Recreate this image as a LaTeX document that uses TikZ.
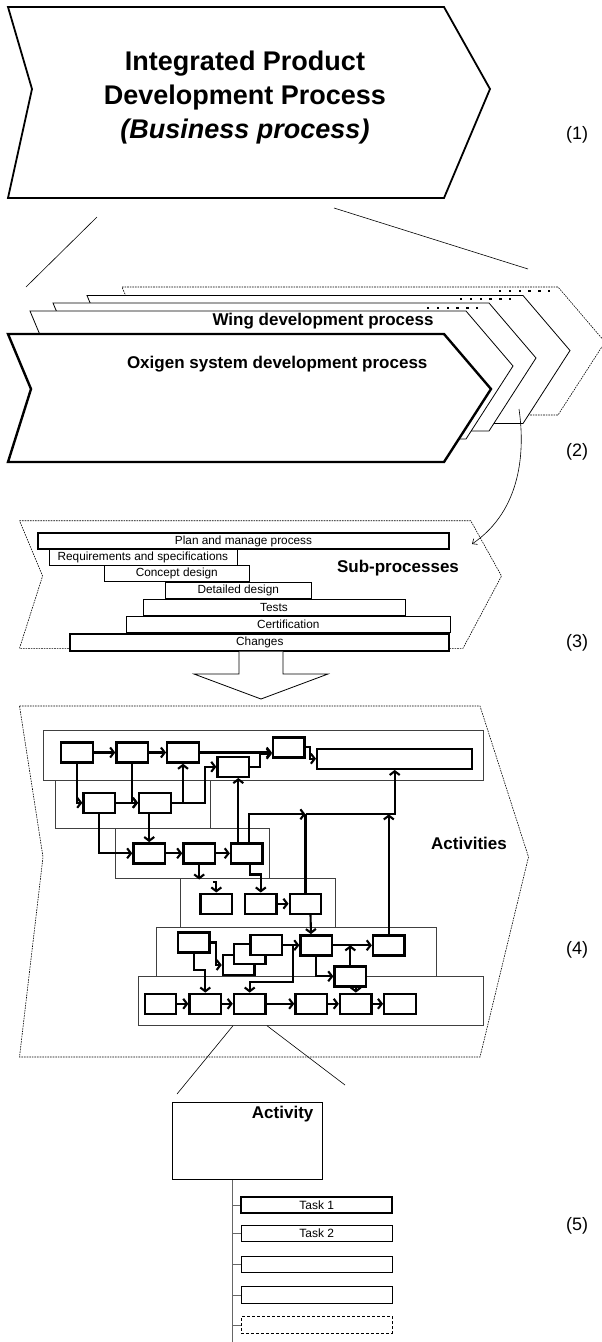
\documentclass[tikz,border=0pt]{standalone}
\usepackage{fontspec}
\setmainfont{Liberation Sans}
\usepackage{tikz}
\usetikzlibrary{arrows.meta}
\newcommand{\framecolor}{black!75}
\newcommand{\spinecolor}{black!60}
% one process chevron of the stack: top left corner at (#2,#3)
\newcommand{\procchev}[3][]{\draw[chev,#1] (#2,#3) -- ++(436,0) -- ++(47,55) -- ++(-47,73) -- ++(-436,0) -- ++(23,-73) -- cycle;}
% six small dots starting at (#1,#2)
\newcommand{\procdots}[2]{\foreach \k in {0,...,5} \fill (#1+9.8*\k,#2) rectangle ++(2.3,2.3);}

\begin{document}
\begin{tikzpicture}[x=1pt, y=-1pt,
	chev/.style={draw, fill=white, line width=0.8pt},
	fine/.style={line width=0.6pt, dash pattern=on 1.6pt off 1pt},
	bar/.style={draw, fill=white, line width=0.6pt, inner sep=0pt, minimum height=16.5pt, font=\fontsize{11.8}{13}\selectfont},
	actbox/.style={draw, fill=white, line width=2.4pt, inner sep=0pt, minimum width=31.5pt, minimum height=20pt},
	flow/.style={line width=2.1pt, -{Straight Barb[length=3.8pt, width=10pt]}},
	link/.style={line width=2.1pt},
	group/.style={draw=\framecolor, line width=0.7pt},
	task/.style={draw, fill=white, line width=1pt, inner sep=0pt, minimum width=151pt, minimum height=16.5pt, font=\fontsize{12}{13}\selectfont},
	boldlbl/.style={font=\fontsize{17}{19}\selectfont\bfseries},
	num/.style={font=\fontsize{18}{20}\selectfont}]
	\useasboundingbox (0,0) rectangle (602,1342);

	% (1) business process
	\draw[line width=1.8pt, fill=white] (8,7) -- (444,7) -- (490,89) -- (444,198) -- (8,198) -- (32,89) -- cycle;
	\node (ipdp) at (245,98) [align=center, font=\fontsize{27}{34}\selectfont\bfseries]
		{Integrated Product\\Development Process\\\textit{(Business process)}};
	\node (n1) at (577,135) [num] {(1)};
	\draw[line width=0.6pt] (97,217) -- (26,287);
	\draw[line width=0.6pt] (334,208) -- (528,269);

	% (2) development processes
	\procchev[fine]{122}{287}
	\procdots{499}{290}
	\procchev{87}{295.5}
	\procdots{460}{298}
	\procchev{53}{303}
	\procdots{427}{306.5}
	\procchev{30}{311}
	\procchev[line width=2.4pt]{8}{334}
	\node (wing) at (437,321) [anchor=east, boldlbl] {Wing development process};
	\node (oxi) at (431,364) [anchor=east, boldlbl] {Oxigen system development process};
	\node (n2) at (577,452) [num] {(2)};

	% (3) sub-processes
	\draw[fine] (19.5,520.7) -- (470.7,520.7) -- (501.5,576) -- (463,648.3) -- (19.5,648.3) -- (42.6,576) -- cycle;
	\node[bar, minimum width=188pt] (reqs) at (142.9,557.2) {Requirements and specifications};
	\node[bar, minimum width=145.5pt] (concept) at (176.8,573.3) {Concept design};
	\node[bar, minimum width=145.3pt] (detail) at (238.3,590.3) {Detailed design};
	\node[bar, minimum width=262pt] (tests) at (274,607.3) {Tests};
	\node[bar, minimum width=323.5pt] (certif) at (288.3,624.2) {Certification};
	\node[bar, line width=1.8pt, minimum width=411pt] (plan) at (243.5,541) {Plan and manage process};
	\node[bar, line width=1.8pt, minimum width=379pt] (changes) at (259.8,642.5) {Changes};
	\node (subl) at (398,568) [boldlbl] {Sub-processes};
	\node (n3) at (577,643) [num] {(3)};
	\coordinate (stackout) at (519,409);
	\coordinate (subin) at (472,544);
	\draw[line width=0.6pt, -{Straight Barb[length=4pt, width=7pt]}] (stackout)
		.. controls (525,450) and (522,510) .. (subin);
	\draw[line width=0.8pt, fill=white] (239,651.5) -- (239,674) -- (194,674) -- (261,699)
		-- (328,674) -- (283,674) -- (283,651.5);

	% (4) activities
	\draw[fine] (19.5,706) -- (480,706) -- (528.5,857) -- (480,1057) -- (19.5,1057) -- (43,857) -- cycle;
	\node (actl) at (469,843) [boldlbl] {Activities};
	\node (n4) at (577,950) [num] {(4)};
	\draw[group] (43.3,730.7) rectangle (483.3,780);
	\draw[group] (55,780) rectangle (210.7,828.3);
	\draw[group] (115,828.3) rectangle (269.3,878.3);
	\draw[group] (180.7,878.3) rectangle (335,927.7);
	\draw[group] (156.7,927.7) rectangle (436,976.7);
	\draw[group] (138.3,976.7) rectangle (483.3,1025.7);

	\node[actbox] (A1) at (77,752.5) {};
	\node[actbox] (A2) at (132.2,752.5) {};
	\node[actbox] (A3) at (183,752.5) {};
	\node[actbox] (A4) at (233.3,766.8) {};
	\node[actbox] (A5) at (288.8,747.3) {};
	\node[actbox, minimum width=155pt] (A6) at (394.7,758.7) {};
	\node[actbox] (B1) at (99.3,802.8) {};
	\node[actbox] (B2) at (155,802.8) {};
	\node[actbox] (C1) at (149.2,853.3) {};
	\node[actbox] (C2) at (199.2,853.3) {};
	\node[actbox] (C3) at (246.8,853.3) {};
	\node[actbox] (D1) at (216.3,903.7) {};
	\node[actbox] (D2) at (260.8,903.7) {};
	\node[actbox] (D3) at (305.5,903.7) {};
	\node[actbox] (E1) at (193.8,942.5) {};
	\node[actbox] (E2a) at (238.7,965) {};
	\node[actbox] (E2b) at (249.6,953.8) {};
	\node[actbox] (E2c) at (266.4,945.2) {};
	\node[actbox] (E3) at (316.3,945.3) {};
	\node[actbox] (E4) at (388.8,945.3) {};
	\node[actbox] (E5) at (350.3,976.3) {};
	\node[actbox] (F1) at (160.5,1003.8) {};
	\node[actbox] (F2) at (205.3,1003.8) {};
	\node[actbox] (F3) at (249.7,1003.8) {};
	\node[actbox] (F4) at (311.2,1003.8) {};
	\node[actbox] (F5) at (355.8,1003.8) {};
	\node[actbox] (F6) at (400,1003.8) {};

	\draw[flow] (A1) -- (A2);
	\draw[flow] (A2) -- (A3);
	\draw[flow] (A3.east) -- (A5.west |- A3.east);
	\draw[flow] (A4.east) -- ++(10,0) |- ([yshift=-6.5pt]A5.west);
	\draw[flow] (A5.east) -- ++(4,0) |- (A6.west);
	\draw[flow] (A1.south) |- (B1.west);
	\draw[flow] (A2.south) |- (B2.west);
	\draw[flow] (B1) -- (B2);
	\draw[flow] (B2.east) -| (A3.south);
	\draw[flow] (B2.east) -- ++(33,0) |- (A4.west);
	\draw[flow] (B1.south) |- (C1.west);
	\draw[flow] (B2.south -| C1.north) -- (C1.north);
	\draw[flow] (C1) -- (C2);
	\draw[flow] (C2) -- (C3);
	\draw[flow] ([xshift=-8.5pt]C3.north) -- ([xshift=5pt]A4.south);
	\coordinate (merge) at (305.5,814.3);
	\draw[flow] ([xshift=2.5pt]C3.north) |- (merge);
	\draw[link] (D3.north) -- (merge);
	\draw[flow] (merge) -| (A6.south);
	\draw[flow] (E4.north) -- (E4.north |- merge);
	\draw[flow] (C2.south) -- ++(0,15);
	\draw[flow] ([xshift=-3.5pt, yshift=10.5pt]D1.north) -| (D1.north);
	\draw[flow] ([xshift=3pt]C3.south) -- ++(0,10) -| (D2.north);
	\draw[flow] (D2) -- (D3);
	\draw[flow] ([xshift=5pt]D3.south) -- ([xshift=-5.3pt]E3.north);
	\draw[flow] (E1.east) -- ++(5,0) |- (E2a.west);
	\draw[flow] (E1.south) -- ++(0,16) -| (F2.north);
	\draw[flow] (E2c.east) -- (E3.west |- E2c.east);
	\draw[flow] (E2c.east) -- ++(10,0) -- ++(0,36.5) -| (F3.north);
	\draw[flow] (E3) -- (E4);
	\draw[flow] (E5.north) -- (E5.north |- E3.east);
	\draw[flow] (E3.south) |- (E5.west);
	\draw[flow] (E5.south -| F5.north) -- (F5.north);
	\draw[flow] (F1) -- (F2);
	\draw[flow] (F2) -- (F3);
	\draw[flow] (F3) -- (F4);
	\draw[flow] (F4) -- (F5);
	\draw[flow] (F5) -- (F6);
	\draw[line width=0.6pt] (233,1025.7) -- (177,1094);
	\draw[line width=0.6pt] (267,1025.7) -- (345,1085);

	% (5) activity and tasks
	\node[draw, line width=1.4pt, minimum width=150pt, minimum height=77pt, inner sep=0pt] (act) at (247.2,1140.8) {};
	\node (actlbl) at ([xshift=-6pt, yshift=-12.7pt]act.north east) [anchor=east, boldlbl] {Activity};
	\coordinate (spine) at (232.7,1342);
	\draw[draw=\spinecolor, line width=1.2pt] (act.south -| spine) -- (spine);
	\node[task, line width=2pt] (t1) at (316.7,1205) {Task 1};
	\node[task] (t2) at (316.7,1233.3) {Task 2};
	\node[task] (t3) at (316.7,1264.3) {};
	\node[task] (t4) at (316.7,1295) {};
	\node[task, dash pattern=on 3pt off 2pt] (t5) at (316.7,1325) {};
	\draw[draw=\spinecolor, line width=1pt] (t1.west -| spine) -- (t1.west);
	\draw[draw=\spinecolor, line width=1pt] (t2.west -| spine) -- (t2.west);
	\draw[draw=\spinecolor, line width=1pt] (t3.west -| spine) -- (t3.west);
	\draw[draw=\spinecolor, line width=1pt] (t4.west -| spine) -- (t4.west);
	\draw[draw=\spinecolor, line width=1pt] (t5.west -| spine) -- (t5.west);
	\node (n5) at (577,1226) [num] {(5)};

\end{tikzpicture}
\end{document}
